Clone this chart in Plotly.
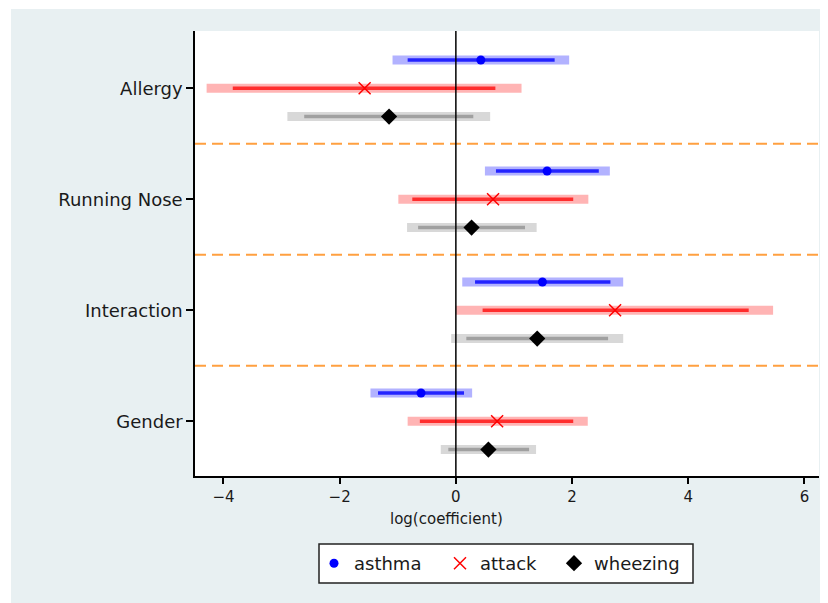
import plotly.graph_objects as go

# ---------------- data ----------------
categories = ["Allergy", "Running Nose", "Interaction", "Gender"]
series_names = ["asthma", "attack", "wheezing"]

# point estimates (log coefficient), order follows categories
asthma_est = [0.43, 1.57, 1.49, -0.60]
attack_est = [-1.57, 0.64, 2.74, 0.71]
wheezing_est = [-1.15, 0.27, 1.40, 0.56]

# narrow interval (dark segment)
asthma_lo_in = [-0.83, 0.69, 0.33, -1.34]
asthma_hi_in = [1.70, 2.46, 2.66, 0.14]
attack_lo_in = [-3.84, -0.75, 0.46, -0.62]
attack_hi_in = [0.68, 2.02, 5.04, 2.02]
wheezing_lo_in = [-2.61, -0.65, 0.18, -0.13]
wheezing_hi_in = [0.30, 1.19, 2.62, 1.26]

# wide interval (light band)
asthma_lo_out = [-1.09, 0.50, 0.11, -1.47]
asthma_hi_out = [1.95, 2.65, 2.88, 0.28]
attack_lo_out = [-4.29, -0.99, 0.00, -0.83]
attack_hi_out = [1.13, 2.28, 5.46, 2.27]
wheezing_lo_out = [-2.90, -0.84, -0.08, -0.26]
wheezing_hi_out = [0.59, 1.39, 2.88, 1.38]

x_ticks = [-4, -2, 0, 2, 4, 6]
x_title = "log(coefficient)"

# ---------------- styling ----------------
OFF = 8  # page body margin
W, H = 828 - OFF, 603 - OFF
# target screen pixels of the plot area
SL, SR, ST, SB = 195, 819, 31, 476
ML, MT = SL - OFF, ST - OFF
MR = W - (SR - OFF)
MB = H - (SB - OFF)
PW, PH = SR - SL, SB - ST
BG = "#e8f0f2"
FONT = "DejaVu Sans"
TXT = "#1a1a1a"

cat_pos = [4, 3, 2, 1]
offsets = {"asthma": 0.255, "attack": 0.0, "wheezing": -0.255}
styles = {
    "asthma": dict(light="rgb(178,178,255)", dark="rgb(35,35,255)",
                   marker=dict(symbol="circle", size=9, color="#0000ff")),
    "attack": dict(light="rgb(255,180,180)", dark="rgb(255,45,45)",
                   marker=dict(symbol="x-thin", size=12, color="#ff0000",
                               line=dict(color="#ff0000", width=1.5))),
    "wheezing": dict(light="rgb(216,216,216)", dark="rgb(160,160,160)",
                     marker=dict(symbol="diamond", size=12.5, color="#000000")),
}
data = {
    "asthma": (asthma_est, asthma_lo_in, asthma_hi_in, asthma_lo_out, asthma_hi_out),
    "attack": (attack_est, attack_lo_in, attack_hi_in, attack_lo_out, attack_hi_out),
    "wheezing": (wheezing_est, wheezing_lo_in, wheezing_hi_in, wheezing_lo_out, wheezing_hi_out),
}
# legend: screen x of each legend marker, legend box
legend_ids = {"asthma": "legend", "attack": "legend2", "wheezing": "legend3"}
legend_marker_px = {"asthma": 333, "attack": 459, "wheezing": 573}
LBOX = (319, 693, 544, 583)


def segs(lo, hi, ys):
    xs, yy = [], []
    for a, b, y in zip(lo, hi, ys):
        xs += [a, b, None]
        yy += [y, y, None]
    return xs, yy


fig = go.Figure()
for name in series_names:
    est, lo_in, hi_in, lo_out, hi_out = data[name]
    ys = [c + offsets[name] for c in cat_pos]
    xs, yy = segs(lo_out, hi_out, ys)
    fig.add_trace(go.Scatter(x=xs, y=yy, mode="lines", showlegend=False, hoverinfo="skip",
                             line=dict(color=styles[name]["light"], width=9)))
    xs, yy = segs(lo_in, hi_in, ys)
    fig.add_trace(go.Scatter(x=xs, y=yy, mode="lines", showlegend=False, hoverinfo="skip",
                             line=dict(color=styles[name]["dark"], width=3.5)))

for name in series_names:
    est = data[name][0]
    ys = [c + offsets[name] for c in cat_pos]
    fig.add_trace(go.Scatter(x=est, y=ys, mode="markers", name=name,
                             legend=legend_ids[name], showlegend=True,
                             marker=styles[name]["marker"]))


# screen pixel -> paper coordinates
def px_x(px):
    return (px - SL) / PW


def px_y(py):
    return (SB - py) / PH


shapes = [
    # white outer border (top and left)
    dict(type="rect", xref="paper", yref="paper", layer="below",
         x0=px_x(OFF), x1=px_x(11), y0=px_y(603), y1=px_y(OFF),
         fillcolor="white", line=dict(width=0)),
    dict(type="rect", xref="paper", yref="paper", layer="below",
         x0=px_x(OFF), x1=px_x(828), y0=px_y(9), y1=px_y(OFF),
         fillcolor="white", line=dict(width=0)),
    # zero line
    dict(type="line", xref="x", yref="paper", x0=0, x1=0, y0=0, y1=1,
         line=dict(color="black", width=1.5), layer="above"),
    # legend box
    dict(type="rect", xref="paper", yref="paper", layer="above",
         x0=px_x(LBOX[0]), x1=px_x(LBOX[1]), y0=px_y(LBOX[3]), y1=px_y(LBOX[2]),
         fillcolor="white", line=dict(color="#222222", width=1.5)),
]
for c in cat_pos[:-1]:
    shapes.append(dict(type="line", xref="paper", yref="y", x0=0, x1=1,
                       y0=c - 0.5, y1=c - 0.5,
                       line=dict(color="#ffa040", width=2, dash="11px,6px"),
                       layer="below"))

legend_common = dict(orientation="h", xanchor="left", yanchor="middle",
                     bgcolor="rgba(0,0,0,0)", borderwidth=0,
                     font=dict(family=FONT, size=18, color=TXT))
legends = {}
for name in series_names:
    legends[legend_ids[name]] = dict(legend_common, x=px_x(legend_marker_px[name] - 19),
                                     y=px_y((LBOX[2] + LBOX[3]) / 2))

fig.update_layout(
    width=W, height=H,
    margin=dict(l=ML, r=MR, t=MT, b=MB, pad=0),
    paper_bgcolor=BG, plot_bgcolor="white",
    font=dict(family=FONT, color=TXT),
    shapes=shapes,
    showlegend=True,
    xaxis=dict(range=[-4.49, 6.25], tickvals=x_ticks,
               ticktext=[("\u2212" + str(abs(t))) if t < 0 else str(t) for t in x_ticks],
               showgrid=False, zeroline=False, showline=True, linecolor="black", linewidth=1.5,
               ticks="outside", ticklen=6, tickwidth=1.5, tickcolor="black",
               tickfont=dict(family=FONT, size=15, color=TXT), mirror=False),
    yaxis=dict(range=[0.507, 4.516], tickvals=cat_pos, ticktext=categories,
               showgrid=False, zeroline=False, showline=True, linecolor="black", linewidth=1.5,
               ticks="outside", ticklen=7, tickwidth=1.5, tickcolor="black",
               tickfont=dict(family=FONT, size=18, color=TXT)),
    annotations=[dict(text=x_title, xref="paper", yref="paper", x=px_x(446), y=px_y(519),
                      xanchor="center", yanchor="middle", showarrow=False,
                      font=dict(family=FONT, size=15, color=TXT))],
    **legends,
)

fig.write_html("out.html")
